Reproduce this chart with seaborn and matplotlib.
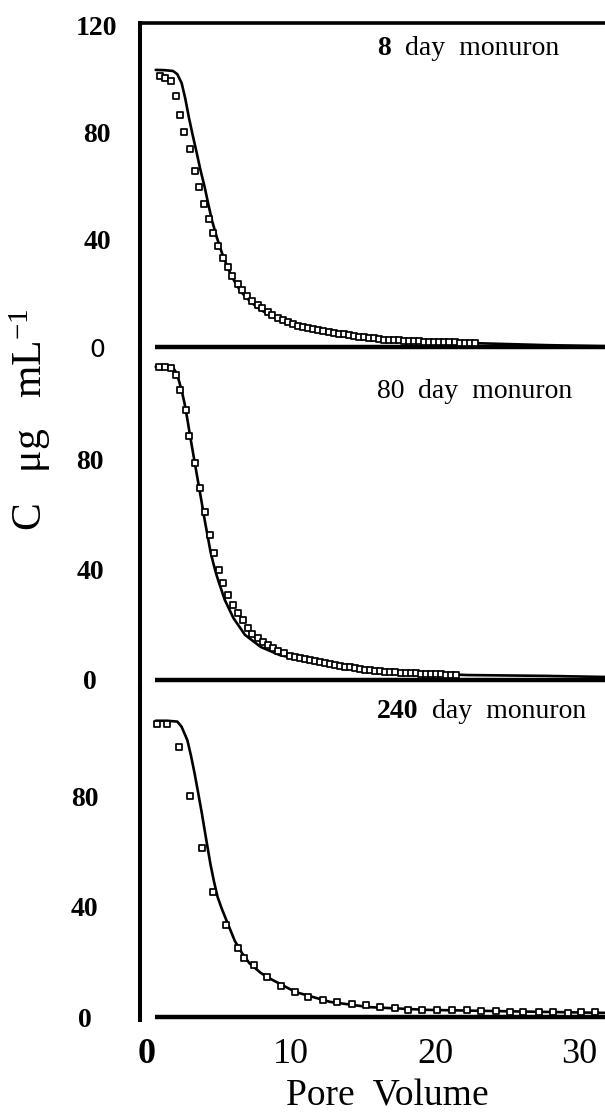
import matplotlib
matplotlib.use("Agg")
import matplotlib.pyplot as plt
import seaborn as sns

# breakthrough data
# 8 day monuron
pv_8 = [0.9, 1.25, 1.65, 2.0, 2.3, 2.6, 2.95, 3.3, 3.6, 3.95, 4.3, 4.6, 4.95, 5.3,
        5.6, 5.9, 6.3, 6.6, 6.95, 7.3, 7.7, 8.0, 8.4, 8.7, 9.1,
        9.45, 9.8, 10.15, 10.5, 10.85, 11.2, 11.55, 11.9, 12.25, 12.6, 12.95, 13.3,
        13.65, 14.0, 14.35, 14.7, 15.05, 15.4, 15.75, 16.1, 16.45, 16.8, 17.15, 17.5,
        17.85, 18.2, 18.55, 18.9, 19.25, 19.6, 19.95, 20.3, 20.65, 21.0, 21.35, 21.7,
        22.05, 22.4, 22.75]
c_8 = [101.1, 100.4, 99.3, 93.7, 86.6, 80.2, 73.9, 65.7, 59.7, 53.4, 47.8, 42.5, 37.7, 33.2,
       29.9, 26.5, 23.5, 21.3, 19.0, 17.2, 15.7, 14.6, 13.1, 11.9, 10.8,
       10.0, 9.2, 8.5, 7.9, 7.4, 7.0, 6.6, 6.2, 5.9, 5.6, 5.3, 5.0,
       4.7, 4.4, 4.1, 3.8, 3.6, 3.4, 3.2, 3.0, 2.8, 2.7, 2.6, 2.5,
       2.4, 2.3, 2.2, 2.1, 2.0, 2.0, 1.9, 1.8, 1.8, 1.7, 1.7, 1.6,
       1.6, 1.5, 1.5]
fit_pv_8 = [0.6, 1.2, 1.8, 2.1, 2.4, 2.65, 2.9, 3.15, 3.45, 3.7, 4.0, 4.25, 4.5, 4.85,
            5.2, 5.55, 5.9, 6.5, 7.2, 7.8, 8.5, 9.5, 11.2, 12.5, 14.0, 16.8, 19.5,
            22.3, 25.0, 27.7, 31.8]
fit_c_8 = [103.4, 103.3, 103.0, 101.8, 98.5, 92.8, 85.8, 79.5, 72.4, 66.2, 59.7, 53.4, 47.4, 40.8,
           35.1, 30.2, 26.1, 20.7, 16.8, 14.2, 11.9, 9.5, 7.1, 5.7, 4.5, 3.0, 2.2,
           1.5, 1.1, 0.7, 0.3]

# 80 day monuron
pv_80 = [0.85, 1.25, 1.65, 2.0, 2.28, 2.68, 2.92, 3.33, 3.68, 4.03, 4.35, 4.68, 4.97, 5.3,
         5.6, 5.97, 6.32, 6.65, 7.0, 7.3, 7.7, 8.05, 8.4, 8.75, 9.1, 9.5, 9.9,
         10.25, 10.6, 10.95, 11.3, 11.65, 12.0, 12.35, 12.7, 13.05, 13.4, 13.75, 14.1,
         14.45, 14.8, 15.15, 15.5, 15.85, 16.2, 16.55, 16.9, 17.25, 17.6, 17.95, 18.3,
         18.65, 19.0, 19.35, 19.7, 20.05, 20.4, 20.75, 21.1, 21.45]
c_80 = [113.8, 113.8, 113.5, 110.9, 105.5, 98.2, 88.7, 79.0, 69.9, 61.2, 52.7, 46.2, 40.0, 35.3,
        30.9, 27.3, 24.4, 21.8, 18.9, 16.7, 15.3, 13.8, 12.7, 11.6, 10.5, 9.8, 8.7,
        8.3, 7.9, 7.5, 7.1, 6.8, 6.5, 6.1, 5.8, 5.5, 5.2, 4.9, 4.6,
        4.3, 4.1, 3.8, 3.6, 3.4, 3.2, 3.0, 2.9, 2.8, 2.7, 2.6, 2.5,
        2.4, 2.3, 2.2, 2.1, 2.0, 2.0, 1.9, 1.9, 1.8]
fit_pv_80 = [0.6, 1.2, 1.8, 2.0, 2.2, 2.4, 2.6, 2.8, 3.0, 3.2, 3.4, 3.6, 3.8, 4.0, 4.22,
             4.4, 4.6, 4.8, 5.0, 5.4, 6.0, 6.8, 7.9, 9.2, 11.4, 14.0, 16.8, 22.2, 27.6, 31.8]
fit_c_80 = [113.9, 113.9, 113.6, 112.0, 109.1, 105.3, 100.7, 94.8, 88.4, 82.4, 76.4, 70.4, 64.4, 58.2, 52.0,
            46.8, 42.5, 38.6, 35.3, 29.1, 22.5, 16.4, 12.0, 9.1, 6.5, 4.4, 2.9, 1.8, 1.5, 1.1]

# 240 day monuron
pv_240 = [0.7, 1.4, 2.2, 3.0, 3.8, 4.6, 5.5, 6.3, 6.7, 7.4, 8.3, 9.3, 10.3, 11.2, 12.2,
          13.2, 14.2, 15.2, 16.2, 17.2, 18.1, 19.1, 20.1, 21.2, 22.2, 23.2, 24.2, 25.2,
          26.1, 27.2, 28.2, 29.2, 30.1, 31.1]
c_240 = [106.6, 106.6, 98.2, 80.4, 61.6, 45.6, 33.6, 25.1, 21.6, 18.9, 14.4, 11.3, 9.1, 7.3, 6.1,
         5.3, 4.6, 4.3, 3.5, 3.1, 2.7, 2.5, 2.5, 2.4, 2.4, 2.2, 2.2, 1.8,
         2.0, 2.0, 1.8, 1.6, 1.8, 2.0]
fit_pv_240 = [0.6, 1.4, 2.1, 2.4, 2.8, 3.05, 3.3, 3.55, 3.8, 4.1, 4.4, 4.65, 4.9, 5.2, 5.5,
              6.1, 6.6, 7.1, 7.9, 8.7, 10.3, 12.7, 15.4, 19.4, 24.8, 31.8]
fit_c_240 = [107.7, 107.7, 107.4, 105.5, 100.6, 95.0, 88.6, 81.5, 74.2, 64.8, 55.6, 49.2, 43.6, 39.2, 35.3,
             27.6, 23.2, 19.6, 16.0, 13.5, 9.1, 5.5, 3.6, 2.6, 2.1, 1.5]

baseline_pv = [0.55, 31.8]
x_ticks = [0, 10, 20, 30]
top_yticks = [0, 40, 80, 120]
yticks = [0, 40, 80]
days = ["8", "80", "240"]
day_bold = [True, False, True]

sns.set_style("white")
plt.rcParams["font.family"] = ["Liberation Serif", "DejaVu Serif"]
plt.rcParams["mathtext.fontset"] = "custom"
plt.rcParams["mathtext.rm"] = "Liberation Serif"
plt.rcParams["mathtext.it"] = "Liberation Serif:italic"
plt.rcParams["mathtext.bf"] = "Liberation Serif:bold"
for key in ["text.color", "axes.labelcolor", "xtick.color", "ytick.color", "axes.edgecolor"]:
    plt.rcParams[key] = "black"

W, H = 605, 1113
fig = plt.figure(figsize=(W / 100, H / 100), dpi=100)

# (top px, bottom px, ylim, tick label pad)
panels = [
    (23, 357, (-3.73, 120.9), 31),
    (350, 690, (-3.64, 120.0), 36),
    (685, 1020, (-1.09, 120.7), 40),
]
series = [
    (pv_8, c_8, fit_pv_8, fit_c_8),
    (pv_80, c_80, fit_pv_80, fit_c_80),
    (pv_240, c_240, fit_pv_240, fit_c_240),
]
text_baselines = [55, 398, 718]

axes = []
for i, (top, bot, ylim, pad) in enumerate(panels):
    ax = fig.add_axes([140 / W, 1 - bot / H, (W - 140) / W, (bot - top) / H])
    ax.set_facecolor("none")
    pv, c, fpv, fc = series[i]

    ax.hlines(0, baseline_pv[0], baseline_pv[1], color="black", lw=3.2)
    sns.lineplot(x=fpv, y=fc, ax=ax, color="black", lw=1.9, sort=False)
    sns.scatterplot(x=pv, y=c, ax=ax, marker="s", s=15, color="white",
                    edgecolor="black", linewidth=1.25, zorder=3)

    ax.set_xlim(-0.49, 31.8)
    ax.set_ylim(*ylim)
    ax.set_xlabel("")
    ax.set_ylabel("")

    sns.despine(ax=ax, top=(i != 0), right=True, bottom=True)
    ax.spines["left"].set_linewidth(2.9)
    ax.spines["left"].set_color("black")
    if i == 0:
        ax.spines["top"].set_linewidth(2.6)
        ax.spines["top"].set_color("black")

    ticks = top_yticks if i == 0 else yticks
    ax.set_yticks(ticks, labels=[str(t) for t in ticks])
    for lbl in ax.get_yticklabels():
        lbl.set_fontsize(20)
        lbl.set_fontweight("bold")
        lbl.set_horizontalalignment("center")
    if i == 0:
        zero_lbl = ax.get_yticklabels()[0]
        zero_lbl.set_family("DejaVu Sans")
        zero_lbl.set_fontweight("normal")
        zero_lbl.set_fontsize(18)
    ax.tick_params(axis="both", length=0)
    ax.tick_params(axis="y", pad=pad)

    if i < 2:
        ax.set_xticks([])
    else:
        ax.set_xticks(x_ticks, labels=[str(t) for t in x_ticks])
        ax.tick_params(axis="x", pad=13)
        for j, lbl in enumerate(ax.get_xticklabels()):
            lbl.set_fontsize(26)
            if j == 0:
                lbl.set_fontweight("bold")

    # panel caption: bold/regular day number followed by "day monuron"
    t = fig.text(377 / W, 1 - text_baselines[i] / H, days[i], fontsize=20,
                 fontweight="bold" if day_bold[i] else "normal",
                 va="baseline", ha="left")
    ax.annotate("  day  monuron", xy=(1, 0), xycoords=t, va="bottom", ha="left",
                fontsize=20)
    axes.append(ax)

axes[1].set_ylabel("C   μg   mL$^{-1}$", fontsize=30)
axes[1].yaxis.label.set_va("center")
axes[1].yaxis.set_label_coords((30 - 140) / 465, (690 - 420) / 340)

axes[2].set_xlabel("Pore  Volume", fontsize=27)
axes[2].xaxis.label.set_va("baseline")
axes[2].xaxis.set_label_coords((387 - 140) / 465, (1020 - 1106) / 335)

fig.savefig("out.png", dpi=100)
